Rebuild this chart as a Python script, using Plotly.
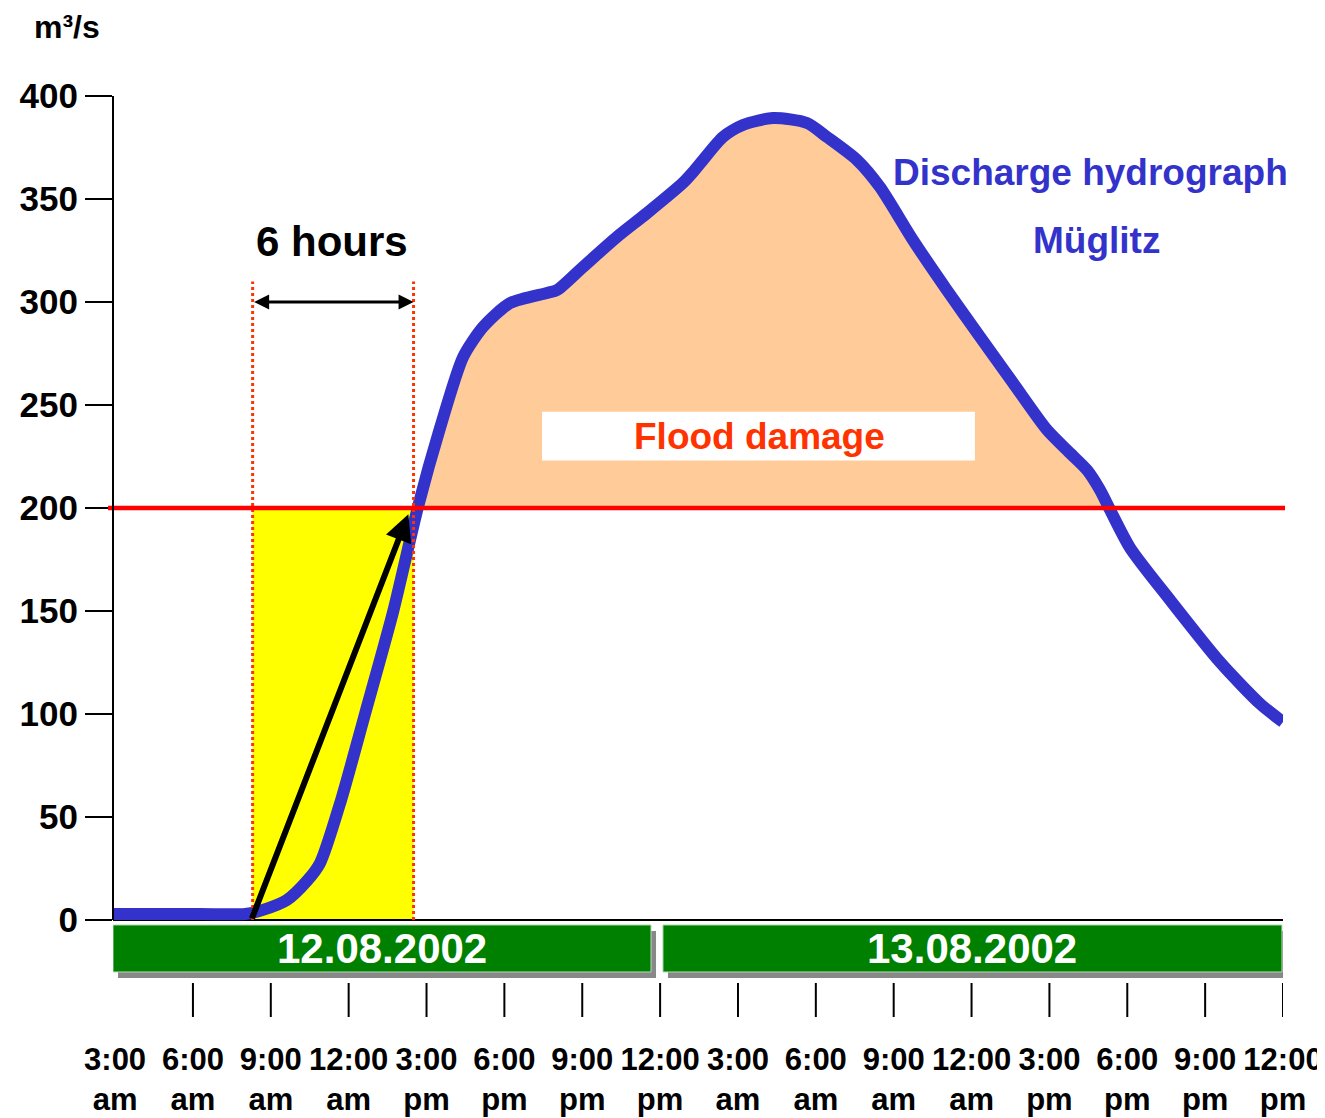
import numpy as np
import plotly.graph_objects as go

# discharge hydrograph of the Müglitz, 12./13.08.2002
# x = hours since midnight of 12.08.2002, y = discharge in m³/s
hours = [2.92, 6.27, 8.01, 8.70, 9.62, 10.39, 10.90, 11.71, 12.63, 13.71, 14.67,
         15.52, 16.41, 17.18, 18.22, 19.64, 20.03, 21.03, 22.34, 23.50, 24.88,
         25.27, 25.65, 26.42, 27.19, 28.35, 29.66, 30.43, 31.59, 32.47, 33.74,
         35.05, 36.33, 37.60, 38.91, 39.79, 40.45, 40.95, 41.34, 42.11, 43.65,
         45.57, 47.12, 48.00]
discharge = [2.9, 2.9, 2.9, 4.9, 9.7, 18.9, 27.7, 58.3, 100.0, 149.5, 200.5,
             238.8, 273.3, 287.9, 299.5, 304.4, 305.8, 317.0, 331.6, 343.2, 357.8,
             363.1, 368.9, 380.1, 385.9, 389.3, 386.9, 380.1, 368.9, 355.8, 330.1,
             305.8, 283.0, 260.7, 237.9, 226.7, 218.4, 208.7, 199.0, 180.6, 155.3,
             125.2, 104.9, 96.1]

tick_hours = [3, 6, 9, 12, 15, 18, 21, 24, 27, 30, 33, 36, 39, 42, 45, 48]
tick_labels = ['3:00<br>am', '6:00<br>am', '9:00<br>am', '12:00<br>am',
               '3:00<br>pm', '6:00<br>pm', '9:00<br>pm', '12:00<br>pm',
               '3:00<br>am', '6:00<br>am', '9:00<br>am', '12:00<br>am',
               '3:00<br>pm', '6:00<br>pm', '9:00<br>pm', '12:00<br>pm']
y_ticks = [0, 50, 100, 150, 200, 250, 300, 350, 400]

dates = ['12.08.2002', '13.08.2002']
date_start = [2.92, 24.11]
date_end = [23.65, 47.96]

damage_level = 200          # m³/s, flood damage starts
warn_start = 8.3            # start of the 6 hour window
warn_end = 14.5             # end of the 6 hour window

BLUE = '#3333CC'
PEACH = '#FFCC99'
RED = '#FF0000'
ORANGE = '#FF3300'
GREEN = '#008000'
FONT = 'Arial, Liberation Sans, sans-serif'

# page geometry (the html body shifts the figure by 8px)
W, H = 1317, 1110
ML, MR, MT, MB = 105, 42, 88, 101
X_RANGE = [2.92, 48]
Y_RANGE = [-47.1, 400]
PLOT_W = W - ML - MR
PLOT_H = H - MT - MB


def px_y(px):
    # pixel distance -> discharge units
    return px * (Y_RANGE[1] - Y_RANGE[0]) / PLOT_H


def px_x(px):
    # pixel distance -> hours
    return px * (X_RANGE[1] - X_RANGE[0]) / PLOT_W


# area above the damage level (crossings interpolated)
h = np.array(hours)
q = np.array(discharge)
above = q >= damage_level
cross = np.where(np.diff(above.astype(int)) != 0)[0]
i0, i1 = cross[0], cross[-1]


def crossing(i):
    return h[i] + (damage_level - q[i]) * (h[i + 1] - h[i]) / (q[i + 1] - q[i])


fill_x = [crossing(i0)] + list(h[i0 + 1:i1 + 1]) + [crossing(i1)]
fill_y = [damage_level] + list(q[i0 + 1:i1 + 1]) + [damage_level]

fig = go.Figure()

fig.add_trace(go.Scatter(
    x=fill_x, y=fill_y, mode='lines', fill='toself',
    fillcolor=PEACH, line=dict(width=0), hoverinfo='skip',
))

fig.add_trace(go.Scatter(
    x=hours, y=discharge, mode='lines',
    line=dict(color=BLUE, width=12, shape='spline', smoothing=0.7),
))

shapes = []

# yellow 6 hour window
shapes.append(dict(type='rect', xref='x', yref='y', x0=warn_start, x1=warn_end,
                   y0=0, y1=damage_level, fillcolor='#FFFF00',
                   line=dict(width=0), layer='below'))

# dotted limits of the window
for xv in [warn_start, warn_end]:
    shapes.append(dict(type='line', xref='x', yref='y', x0=xv, x1=xv,
                       y0=0, y1=310, line=dict(color=ORANGE, width=3, dash='dot'),
                       layer='above'))

# damage level line
shapes.append(dict(type='line', xref='paper', yref='y',
                   x0=-5 / PLOT_W, x1=1 + 2 / PLOT_W,
                   y0=damage_level, y1=damage_level,
                   line=dict(color=RED, width=4.5), layer='above'))

# white box behind "Flood damage"
shapes.append(dict(type='rect', xref='x', yref='y', x0=19.45, x1=36.13,
                   y0=223.0, y1=246.7, fillcolor='white',
                   line=dict(width=0), layer='above'))

# y axis line
shapes.append(dict(type='line', xref='paper', yref='y', x0=0, x1=0,
                   y0=0, y1=400, line=dict(color='black', width=2)))

# date strip with shadow
strip_top, strip_bot = -px_y(5), -px_y(52)
for d0, d1 in zip(date_start, date_end):
    shapes.append(dict(type='rect', xref='x', yref='y',
                       x0=d0 + px_x(5), x1=d1 + px_x(5),
                       y0=strip_top - px_y(6), y1=strip_bot - px_y(6),
                       fillcolor='#888888', line=dict(width=0), layer='above'))
    shapes.append(dict(type='rect', xref='x', yref='y', x0=d0, x1=d1,
                       y0=strip_top, y1=strip_bot, fillcolor=GREEN,
                       line=dict(color='#B8D8B8', width=1), layer='above'))

# hour ticks below the strip
for th in tick_hours[1:]:
    shapes.append(dict(type='line', xref='x', yref='y', x0=th, x1=th,
                       y0=-px_y(63), y1=Y_RANGE[0],
                       line=dict(color='black', width=2), layer='above'))

annotations = []

for d0, d1, label in zip(date_start, date_end, dates):
    annotations.append(dict(x=(d0 + d1) / 2, y=(strip_top + strip_bot) / 2,
                            xref='x', yref='y', text=label, showarrow=False,
                            font=dict(family=FONT, size=42, color='white', weight='bold')))

# 6 hours double arrow
annotations.append(dict(x=warn_end, y=300, ax=warn_start, ay=300,
                        xref='x', yref='y', axref='x', ayref='y', text='',
                        showarrow=True, arrowhead=2, arrowside='end+start',
                        arrowsize=1, arrowwidth=3, arrowcolor='black'))
annotations.append(dict(x=11.36, y=329.6, xref='x', yref='y', text='6 hours',
                        showarrow=False,
                        font=dict(family=FONT, size=42, color='black', weight='bold')))

# rising arrow
annotations.append(dict(x=14.3, y=197, ax=8.25, ay=0,
                        xref='x', yref='y', axref='x', ayref='y', text='',
                        showarrow=True, arrowhead=2, arrowsize=0.9,
                        arrowwidth=6, arrowcolor='black'))

annotations.append(dict(x=27.82, y=234.5, xref='x', yref='y', text='Flood damage',
                        showarrow=False,
                        font=dict(family=FONT, size=37, color=ORANGE, weight='bold')))
annotations.append(dict(x=40.6, y=363, xref='x', yref='y', text='Discharge hydrograph',
                        showarrow=False,
                        font=dict(family=FONT, size=37, color=BLUE, weight='bold')))
annotations.append(dict(x=40.8, y=330, xref='x', yref='y', text='Müglitz',
                        showarrow=False,
                        font=dict(family=FONT, size=37, color=BLUE, weight='bold')))

# unit label above the y axis (kept inside the figure's top edge)
annotations.append(dict(x=-80 / PLOT_W, y=(PLOT_H + MT) / PLOT_H,
                        xref='paper', yref='paper', xanchor='left', yanchor='top',
                        text='m³/s', showarrow=False, borderpad=0,
                        font=dict(family=FONT, size=32, color='black', weight='bold')))

fig.update_layout(
    width=W,
    height=H,
    autosize=False,
    margin=dict(l=ML, r=MR, t=MT, b=MB, pad=0),
    paper_bgcolor='white',
    plot_bgcolor='white',
    showlegend=False,
    shapes=shapes,
    annotations=annotations,
    xaxis=dict(
        range=X_RANGE,
        automargin=False,
        showgrid=False,
        zeroline=False,
        showline=False,
        ticks='',
        tickmode='array',
        tickvals=tick_hours,
        ticktext=tick_labels,
        tickangle=0,
        ticklabelstandoff=21,
        ticklabeloverflow='allow',
        tickfont=dict(family=FONT, size=31, color='black', weight='bold'),
    ),
    yaxis=dict(
        range=Y_RANGE,
        automargin=False,
        showgrid=False,
        zeroline=True,
        zerolinecolor='black',
        zerolinewidth=2,
        showline=False,
        ticks='outside',
        ticklen=27,
        tickwidth=2,
        tickcolor='black',
        tickmode='array',
        tickvals=y_ticks,
        tickfont=dict(family=FONT, size=35, color='black', weight='bold'),
    ),
)

fig.write_html("out.html")
